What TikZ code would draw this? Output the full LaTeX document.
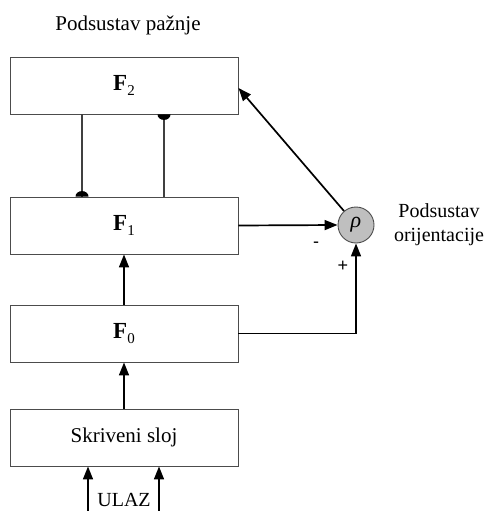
\documentclass[tikz,border=0pt]{standalone}
\usepackage{fontspec}
\setmainfont{Liberation Serif}
\newfontfamily\sansf{Liberation Sans}
\usetikzlibrary{arrows.meta,calc}
\begin{document}
\begin{tikzpicture}[x=1pt,y=-1pt,
  layerbox/.style={draw=black!70, line width=0.9pt, minimum width=228pt, minimum height=57pt, inner sep=0pt, font=\fontsize{21}{24}\selectfont},
  arr/.style={line width=1.7pt, -{Triangle[length=13pt,width=10pt]}},
  link/.style={draw=black!75, line width=1.3pt},
  lbl/.style={font=\fontsize{21}{24}\selectfont, inner sep=0pt}]
\useasboundingbox (0,0) rectangle (485,511);
\newcommand{\Flab}[1]{{\fontsize{23}{24}\selectfont\bfseries F}\raisebox{-0.2em}{\fontsize{15}{15}\selectfont #1}}
\node[lbl] (title) at (128,25) {Podsustav pažnje};
\node[layerbox] (f2) at (124,85.5) {\Flab{2}};
\node[layerbox] (f1) at (124,225.5) {\Flab{1}};
\node[layerbox] (f0) at (124,333.5) {\Flab{0}};
\node[layerbox] (hid) at (124,437.5) {Skriveni sloj};
\node[circle, draw=black!70, line width=0.9pt, fill=black!25, minimum size=36pt, inner sep=0pt, font=\fontsize{22}{24}\selectfont\itshape] (rho) at (356,225) {ρ};
\node[lbl, align=center, font=\fontsize{20}{24}\selectfont] (orient) at (439,225) {Podsustav\\orijentacije};
\node[inner sep=0pt, font=\sansf\fontsize{18}{18}\selectfont] (minus) at (316,245) {-};
\node[inner sep=0pt, font=\sansf\fontsize{18}{18}\selectfont] (plus) at (343,266) {+};
\node[lbl, font=\fontsize{20}{24}\selectfont] (ulaz) at (124,500) {ULAZ};
% coordinates for the F1-F2 links and inputs
\coordinate (ca) at (82,0);
\coordinate (cb) at (164,0);
\coordinate (in1) at (88,511);
\coordinate (in2) at (159,511);
% links between F2 and F1
\draw[link] (f2.south -| ca) -- (f1.north -| ca);
\draw[link] (f2.south -| cb) -- (f1.north -| cb);
\fill ($(f1.north -| ca)+(-6.5,0)$) arc[start angle=180, end angle=360, x radius=6.5, y radius=5.5] -- cycle;
\fill ($(f2.south -| cb)+(-6.5,0)$) arc[start angle=180, end angle=0, x radius=6.5, y radius=5.5] -- cycle;
% vertical arrows
\draw[arr] (hid.north) -- (f0.south);
\draw[arr] (f0.north) -- (f1.south);
\draw[arr] (in1) -- (hid.south -| in1);
\draw[arr] (in2) -- (hid.south -| in2);
% orientation subsystem
\draw[arr] (f1.east) -- (rho.west);
\draw[arr] (f0.east) -| (rho.south);
\draw[arr] (rho) -- ($(f2.east)+(0,2.5)$);
\end{tikzpicture}
\end{document}
